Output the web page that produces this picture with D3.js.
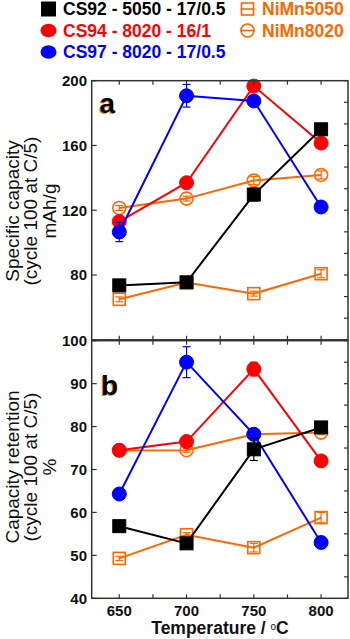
<!DOCTYPE html>
<html><head><meta charset="utf-8">
<script src="https://cdn.jsdelivr.net/npm/d3@7"></script>
<style>html,body{margin:0;padding:0;background:#fff;}svg{display:block;}</style>
</head><body>
<svg id="chart" width="350" height="639"></svg>
<script>
// ---- data ----
const temps = [650, 700, 750, 800];
const xTickLabels = [650, 700, 750, 800];
const seriesNames = ["CS92 - 5050 - 17/0.5", "CS94 - 8020 - 16/1", "CS97 - 8020 - 17/0.5", "NiMn5050", "NiMn8020"];

const capCS92 = [73.6, 75.5, 129.7, 170.0];
const capCS94 = [113.0, 137.0, 196.7, 161.5];
const capCS97 = [106.6, 190.7, 187.5, 122.0];
const capNiMn5050 = [65.0, 75.3, 68.5, 80.8];
const capNiMn8020 = [121.4, 127.2, 138.4, 141.8];
const capErrCS92 = [1.0, 1.0, 4.0, 1.0];
const capErrCS94 = [1.5, 1.5, 1.5, 1.5];
const capErrCS97 = [6.0, 7.0, 1.5, 1.5];
const capErrNiMn5050 = [1.5, 1.5, 1.5, 2.5];
const capErrNiMn8020 = [1.5, 1.5, 2.5, 2.5];

const retCS92 = [56.8, 52.8, 74.7, 79.8];
const retCS94 = [74.5, 76.5, 93.4, 72.0];
const retCS97 = [64.3, 95.0, 78.2, 53.0];
const retNiMn5050 = [49.3, 54.8, 51.8, 58.8];
const retNiMn8020 = [74.4, 74.5, 78.2, 78.6];
const retErrCS92 = [0.5, 0.5, 2.6, 0.5];
const retErrCS94 = [0.8, 1.0, 1.6, 0.5];
const retErrCS97 = [0.5, 3.6, 0.5, 0.5];
const retErrNiMn5050 = [0.5, 0.5, 1.0, 1.2];
const retErrNiMn8020 = [0.5, 0.5, 1.0, 0.5];

const capTicks = [80, 120, 160, 200];
const retTicks = [40, 50, 60, 70, 80, 90, 100];

// ---- styles ----
const BLACK = "#000000", RED = "#ff0000", BLUE = "#0000ff", ORANGE = "#ff6600";
const FRAME = "#333333";
const styles = [
  {name: seriesNames[0], color: BLACK, shape: "square", fill: true},
  {name: seriesNames[1], color: RED, shape: "circle", fill: true},
  {name: seriesNames[2], color: BLUE, shape: "circle", fill: true},
  {name: seriesNames[3], color: ORANGE, shape: "square", fill: false},
  {name: seriesNames[4], color: ORANGE, shape: "circle", fill: false}
];

const svg = d3.select("#chart");
const left = 91.7, right = 348;
const x = d3.scaleLinear().domain([629.5, 820]).range([left, right]);
const yA = d3.scaleLinear().domain([40, 200]).range([339.8, 80.7]);
const yB = d3.scaleLinear().domain([40, 100]).range([598.3, 340.7]);

function drawPanel(y, dom, ticks, minorStep, seriesVals, seriesErr, order, letter, titleLines, titleCenter, showXLabels) {
  const g = svg.append("g");
  const top = y(dom[1]), bot = y(dom[0]);
  // series
  order.forEach(i => {
    const st = styles[i];
    const vals = seriesVals[i], errs = seriesErr[i];
    const pts = temps.map((t, k) => ({t, v: vals[k], e: errs[k]}));
    const sg = g.append("g");
    sg.append("path").datum(pts)
      .attr("d", d3.line().x(d => x(d.t)).y(d => y(d.v)))
      .attr("fill", "none").attr("stroke", st.color).attr("stroke-width", 2);
    // error bars
    pts.forEach(d => {
      const cx = x(d.t);
      sg.append("line").attr("x1", cx).attr("x2", cx).attr("y1", y(d.v - d.e)).attr("y2", y(d.v + d.e))
        .attr("stroke", st.color).attr("stroke-width", 1.2);
      [d.v - d.e, d.v + d.e].forEach(vv => {
        sg.append("line").attr("x1", cx - 4).attr("x2", cx + 4).attr("y1", y(vv)).attr("y2", y(vv))
          .attr("stroke", st.color).attr("stroke-width", 1.2);
      });
    });
    pts.forEach(d => drawMarker(sg, x(d.t), y(d.v), st, false));
  });
  // frame
  g.append("rect").attr("x", left).attr("y", top).attr("width", right - left).attr("height", bot - top)
    .attr("fill", "none").attr("stroke", FRAME).attr("stroke-width", 1.5);
  // x ticks every 25 top and bottom
  d3.range(650, 801, 25).forEach(t => {
    g.append("line").attr("x1", x(t)).attr("x2", x(t)).attr("y1", top).attr("y2", top + 4).attr("stroke", FRAME).attr("stroke-width", 1.2);
    g.append("line").attr("x1", x(t)).attr("x2", x(t)).attr("y1", bot).attr("y2", bot - 4).attr("stroke", FRAME).attr("stroke-width", 1.2);
  });
  // y major ticks left, minor right
  ticks.forEach(v => {
    g.append("line").attr("x1", left).attr("x2", left + 5).attr("y1", y(v)).attr("y2", y(v)).attr("stroke", FRAME).attr("stroke-width", 1.2);
  });
  const nMinor = Math.round((dom[1] - dom[0]) / minorStep);
  for (let k = 0; k <= nMinor; k++) {
    const v = dom[0] + k * minorStep;
    g.append("line").attr("x1", right).attr("x2", right - 4).attr("y1", y(v)).attr("y2", y(v)).attr("stroke", FRAME).attr("stroke-width", 1.2);
  }
  // y tick labels
  g.selectAll("text.yt").data(ticks).enter().append("text")
    .attr("x", 87).attr("y", d => y(d)).attr("dy", "0.36em")
    .attr("text-anchor", "end").attr("font-family", "Liberation Sans, Arial, sans-serif")
    .attr("font-weight", "bold").attr("font-size", 15).attr("fill", "#111").text(d => d);
  // panel letter
  const lx = letter === "a" ? 99.5 : 101;
  const ly = letter === "a" ? 113 : 395;
  g.append("text").attr("x", lx - 1).attr("y", ly + 0.5).attr("font-family", "Liberation Sans, Arial, sans-serif")
    .attr("font-weight", "bold").attr("font-size", 28).attr("fill", "#e8892f").text(letter);
  g.append("text").attr("x", lx).attr("y", ly).attr("font-family", "Liberation Sans, Arial, sans-serif")
    .attr("font-weight", "bold").attr("font-size", 28).attr("fill", "#000").text(letter);
  // y title
  const bl = [18.5, 37, 55.5];
  titleLines.forEach((s, k) => {
    g.append("text").attr("transform", `translate(${bl[k]},${titleCenter}) rotate(-90)`)
      .attr("text-anchor", "middle").attr("font-family", "Liberation Sans, Arial, sans-serif")
      .attr("font-size", 19).attr("fill", "#111").text(s);
  });
  if (showXLabels) {
    g.selectAll("text.xt").data(xTickLabels).enter().append("text")
      .attr("x", d => x(d)).attr("y", 616).attr("text-anchor", "middle")
      .attr("font-family", "Liberation Sans, Arial, sans-serif").attr("font-weight", "bold")
      .attr("font-size", 15).attr("fill", "#111").text(d => d);
  }
}

function drawMarker(sel, cx, cy, st, legend) {
  if (st.shape === "square") {
    const s = st.fill ? (legend ? 14 : 13) : 12;
    sel.append("rect").attr("x", cx - s / 2).attr("y", cy - s / 2).attr("width", s).attr("height", s)
      .attr("fill", st.fill ? st.color : "none").attr("stroke", st.color).attr("stroke-width", st.fill ? 1 : 1.6);
  } else {
    const r = st.fill ? 7 : 6.5;
    sel.append("circle").attr("cx", cx).attr("cy", cy).attr("r", r)
      .attr("fill", st.fill ? st.color : "none").attr("stroke", st.color).attr("stroke-width", st.fill ? 1 : 1.6);
  }
}

const order = [3, 4, 1, 2, 0];
drawPanel(yA, [40, 200], capTicks, 40 / 3,
  [capCS92, capCS94, capCS97, capNiMn5050, capNiMn8020],
  [capErrCS92, capErrCS94, capErrCS97, capErrNiMn5050, capErrNiMn8020],
  order, "a", ["Specific capacity", "(cycle 100 at C/5)", "mAh/g"], 211, false);
drawPanel(yB, [40, 100], retTicks, 5,
  [retCS92, retCS94, retCS97, retNiMn5050, retNiMn8020],
  [retErrCS92, retErrCS94, retErrCS97, retErrNiMn5050, retErrNiMn8020],
  order, "b", ["Capacity retention", "(cycle 100 at C/5)", "%"], 467, true);

// x title
const xt = svg.append("text").attr("x", 220).attr("y", 634).attr("text-anchor", "middle")
  .attr("font-family", "Liberation Sans, Arial, sans-serif").attr("font-weight", "bold")
  .attr("font-size", 17.5).attr("fill", "#111");
xt.append("tspan").text("Temperature / ");
xt.append("tspan").attr("font-size", 10).attr("font-weight", "normal").attr("dy", -4).text("o");
xt.append("tspan").attr("dy", 4).text("C");

// legend
const legendPos = [
  {mx: 48.5, tx: 63, cy: 9},
  {mx: 48.5, tx: 63, cy: 30.5},
  {mx: 48.5, tx: 63, cy: 52},
  {mx: 247.5, tx: 262, cy: 9},
  {mx: 247.5, tx: 262, cy: 30.5}
];
const lg = svg.append("g");
styles.forEach((st, i) => {
  const p = legendPos[i];
  if (!st.fill) {
    lg.append("line").attr("x1", p.mx - 7).attr("x2", p.mx + 7).attr("y1", p.cy).attr("y2", p.cy)
      .attr("stroke", st.color).attr("stroke-width", 1.6);
  }
  if (st.shape === "circle" && st.fill) {
    lg.append("ellipse").attr("cx", p.mx).attr("cy", p.cy).attr("rx", 8).attr("ry", 6.8).attr("fill", st.color);
  } else {
    drawMarker(lg, p.mx, p.cy, st, true);
  }
  lg.append("text").attr("x", p.tx).attr("y", p.cy + 6.3)
    .attr("font-family", "Liberation Sans, Arial, sans-serif").attr("font-weight", "bold")
    .attr("font-size", 17.5).attr("fill", st.color).text(st.name);
});
</script>
</body></html>
